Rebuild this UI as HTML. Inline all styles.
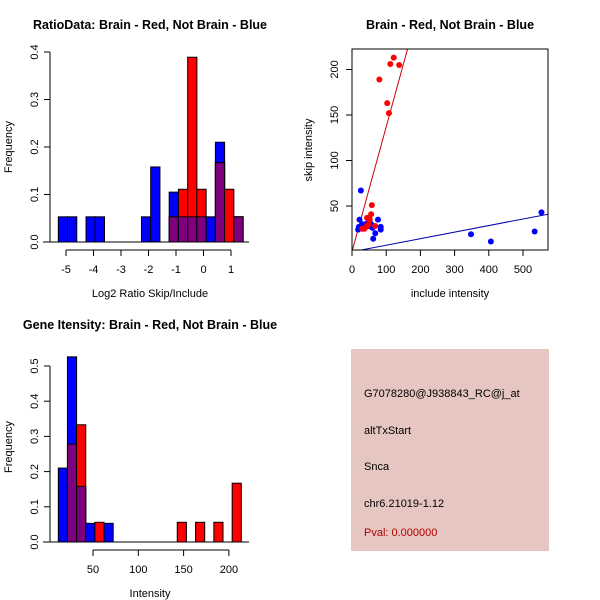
<!DOCTYPE html>
<html><head><meta charset="utf-8"><style>
body{margin:0;background:#fff}
svg{display:block;font-family:"Liberation Sans",sans-serif}
</style></head><body>
<svg id="c" width="600" height="600" viewBox="0 0 600 600">
<rect width="600" height="600" fill="#fff"/>
<g font-weight="bold" font-size="12.5" text-anchor="middle">
<text x="150" y="29">RatioData: Brain - Red, Not Brain - Blue</text>
<text x="450" y="29">Brain - Red, Not Brain - Blue</text>
<text x="150" y="329">Gene Itensity: Brain - Red, Not Brain - Blue</text>
</g>
<g font-size="11" text-anchor="middle">
<text x="150" y="297">Log2 Ratio Skip/Include</text>
<text x="450" y="297">include intensity</text>
<text x="150" y="597">Intensity</text>
<text transform="translate(12,147) rotate(-90)">Frequency</text>
<text transform="translate(312,150) rotate(-90)">skip intensity</text>
<text transform="translate(12,447) rotate(-90)">Frequency</text>
</g>
<g>
<rect x="351" y="349" width="198" height="202" fill="#e6c6c0"/>
<g font-size="11">
<text x="364" y="397">G7078280@J938843_RC@j_at</text>
<text x="364" y="434">altTxStart</text>
<text x="364" y="470">Snca</text>
<text x="364" y="507">chr6.21019-1.12</text>
<text x="364" y="536" fill="#b00000">Pval: 0.000000</text>
</g></g>
</svg>
<script>
// Ratio histogram data
const ratioStart = -5.28, ratioWidth = 0.336;
const ratioBlue = [0.053,0.053,0,0.053,0.053,0,0,0,0,0.053,0.158,0,0.105,0.053,0.053,0.053,0.053,0.21,0,0.053];
const ratioRed  = [0,0,0,0,0,0,0,0,0,0,0,0,0.053,0.111,0.389,0.111,0,0.167,0.111,0.053];
const ratioXTicks = [-5,-4,-3,-2,-1,0,1];
const ratioYTicks = [0,0.1,0.2,0.3,0.4];
// Intensity histogram data
const intStart = 11.7, intWidth = 10.1;
const intBlue = [0.21,0.526,0.158,0.053,0,0.053,0,0,0,0,0,0,0,0,0,0,0,0,0,0];
const intRed  = [0,0.278,0.333,0,0.056,0,0,0,0,0,0,0,0,0.056,0,0.056,0,0.056,0,0.167];
const intXTicks = [50,100,150,200];
const intYTicks = [0,0.1,0.2,0.3,0.4,0.5];
// Scatter data
const redX = [122,112,138,80,103,108,58,56,50,44,52,68,42,36,30,48];
const redY = [213,206,205,189,163,152,51,41,37,37,35,28,27,25,25,30];
const blueX = [26,22,76,18,20,30,40,50,56,60,84,84,68,62,348,406,534,554,45,35];
const blueY = [67,35,35,24,27,30,30,28,30,26,27,24,20,14,19,11,22,43,31,29];
const redFit = [0, 1.37];   // intercept, slope
const blueFit = [-0.3, 0.072];
const scXTicks = [0,100,200,300,400,500];
const scYTicks = [50,100,150,200];

const svg = document.getElementById('c');
const NS = 'http://www.w3.org/2000/svg';
function mk(tag, attrs, parent){const e=document.createElementNS(NS,tag);for(const k in attrs)e.setAttribute(k,attrs[k]);(parent||svg).appendChild(e);return e;}

function hist(name, start, width, blue, red, sx, sy, xTicks, yTicks, axisY, baseY, ytfmt){
  const g = mk('g',{});
  
  
  for(let i=0;i<blue.length;i++){
    const x0=sx(start+i*width), x1=sx(start+(i+1)*width);
    const b=blue[i], r=red[i], m=Math.min(b,r);
    if(b>0){const e=mk('rect',{x:x0,y:sy(b),width:x1-x0,height:sy(0)-sy(b),fill:'#0000ff',stroke:'#000','stroke-width':1},g);
      
      }
    if(r>0){const e=mk('rect',{x:x0,y:sy(r),width:x1-x0,height:sy(0)-sy(r),fill:'#ff0000',stroke:'#000','stroke-width':1},g);
      
      }
    if(m>0){const e=mk('rect',{x:x0,y:sy(m),width:x1-x0,height:sy(0)-sy(m),fill:'#7f007f',stroke:'#000','stroke-width':1},g);
      
      }
  }
  mk('line',{x1:43,x2:249,y1:sy(0),y2:sy(0),stroke:'#000'},g);
  const xa=mk('g',{},g);
  
  
  mk('line',{x1:sx(xTicks[0]),x2:sx(xTicks[xTicks.length-1]),y1:axisY,y2:axisY,stroke:'#000'},xa);
  xTicks.forEach(t=>{mk('line',{x1:sx(t),x2:sx(t),y1:axisY,y2:axisY+6,stroke:'#000'},xa);
    const tx=mk('text',{x:sx(t),y:axisY+23,'font-size':11,'text-anchor':'middle'},xa);tx.textContent=t;});
  const ya=mk('g',{},g);
  
  
  mk('line',{x1:50,x2:50,y1:sy(yTicks[0]),y2:sy(yTicks[yTicks.length-1]),stroke:'#000'},ya);
  yTicks.forEach(t=>{mk('line',{x1:44,x2:50,y1:sy(t),y2:sy(t),stroke:'#000'},ya);
    const tx=mk('text',{transform:`translate(38,${sy(t)}) rotate(-90)`,'font-size':11,'text-anchor':'middle'},ya);tx.textContent=t.toFixed(1);});
}
hist('ratio-histogram', ratioStart, ratioWidth, ratioBlue, ratioRed,
  v=>66+(v+5)*27.5, v=>242-v*475, ratioXTicks, ratioYTicks, 250);
hist('intensity-histogram', intStart, intWidth, intBlue, intRed,
  v=>93+(v-50)*0.906, v=>542-v*352, intXTicks, intYTicks, 550);

// scatter
const sxs=v=>352+v*0.342, sys=v=>251.5-v*0.91;
const sc=mk('g',{});


const cp=mk('clipPath',{id:'scclip'},sc);mk('rect',{x:352,y:49,width:196,height:201},cp);
const lines=mk('g',{'clip-path':'url(#scclip)'},sc);
[[redFit,'#cc0000','red-fit-line'],[blueFit,'#0000aa','blue-fit-line']].forEach(([f,c,n])=>{
  const l=mk('line',{x1:sxs(-10),y1:sys(f[0]+f[1]*-10),x2:sxs(700),y2:sys(f[0]+f[1]*700),stroke:c,'stroke-width':1},lines);
  
  
});
const pts=mk('g',{'clip-path':'url(#scclip)'},sc);
blueX.forEach((x,i)=>{const p=mk('circle',{cx:sxs(x),cy:sys(blueY[i]),r:3,fill:'#0000ff'},pts);
  
  });
redX.forEach((x,i)=>{const p=mk('circle',{cx:sxs(x),cy:sys(redY[i]),r:3,fill:'#ff0000'},pts);
  
  });
mk('rect',{x:352,y:49,width:196,height:201,fill:'none',stroke:'#000'},sc);
scXTicks.forEach(t=>{mk('line',{x1:sxs(t),x2:sxs(t),y1:250,y2:256,stroke:'#000'},sc);
  const tx=mk('text',{x:sxs(t),y:273,'font-size':11,'text-anchor':'middle'},sc);tx.textContent=t;});
scYTicks.forEach(t=>{mk('line',{x1:346,x2:352,y1:sys(t),y2:sys(t),stroke:'#000'},sc);
  const tx=mk('text',{transform:`translate(338,${sys(t)}) rotate(-90)`,'font-size':11,'text-anchor':'middle'},sc);tx.textContent=t;});
</script>
</body></html>
